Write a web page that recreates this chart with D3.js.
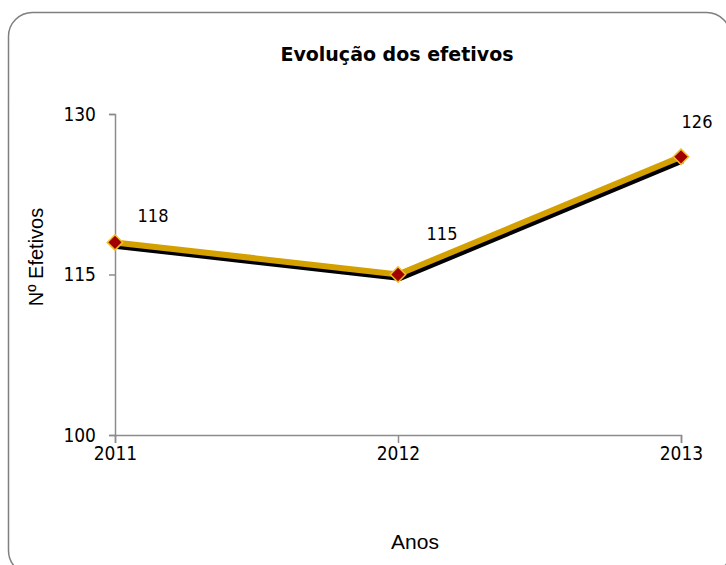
<!DOCTYPE html>
<html>
<head>
<meta charset="utf-8">
<script src="https://cdn.jsdelivr.net/npm/d3@7"></script>
<style>
  body { margin: 0; background: #fff; }
  text { font-family: "DejaVu Sans Condensed", "DejaVu Sans", sans-serif; }
</style>
</head>
<body>
<div id="chart"></div>
<script>
// data
var years = ["2011", "2012", "2013"];
var efetivos = [118, 115, 126];
var yTicks = [100, 115, 130];

var W = 726, H = 565;
var margin = { top: 114, right: 45, bottom: 130, left: 115 },
    width = W - margin.left - margin.right,
    height = H - margin.top - margin.bottom;

var svg = d3.select("#chart")
    .append("svg")
    .attr("width", W)
    .attr("height", H);

// outer rounded frame
svg.append("rect")
    .attr("x", 8.5).attr("y", 12.5)
    .attr("width", 722).attr("height", 562)
    .attr("rx", 24)
    .attr("fill", "#fff")
    .attr("stroke", "#7f7f7f")
    .attr("stroke-width", 1.5);

var g = svg.append("g")
    .attr("transform", "translate(" + margin.left + "," + margin.top + ")");

var x = d3.scalePoint()
    .domain(years)
    .range([0, width]);

var y = d3.scaleLinear()
    .domain([100, 130])
    .range([height, 0]);

// X axis
var xAxis = g.append("g")
    .attr("transform", "translate(0," + height + ")")
    .call(d3.axisBottom(x).tickSize(8).tickPadding(4));
xAxis.select(".domain").attr("stroke", "#8c8c8c").attr("stroke-width", 1.5);
xAxis.selectAll(".tick line").attr("stroke", "#8c8c8c").attr("stroke-width", 1.5);
xAxis.selectAll("text")
    .attr("font-size", 19)
    .attr("fill", "#000")
    .style("font-family", "'DejaVu Sans Condensed', sans-serif");

// Y axis
var yAxis = g.append("g")
    .call(d3.axisLeft(y).tickValues(yTicks).tickSize(6).tickPadding(13));
yAxis.select(".domain").attr("stroke", "#8c8c8c").attr("stroke-width", 1.5);
yAxis.selectAll(".tick line").attr("stroke", "#8c8c8c").attr("stroke-width", 1.5);
yAxis.selectAll("text")
    .attr("font-size", 19)
    .attr("fill", "#000")
    .style("font-family", "'DejaVu Sans Condensed', sans-serif");

var data = years.map(function (d, i) { return { year: d, value: efetivos[i] }; });

var line = d3.line()
    .x(function (d) { return x(d.year); })
    .y(function (d) { return y(d.value); });

// shadow
g.append("path")
    .datum(data)
    .attr("transform", "translate(2,3.5)")
    .attr("fill", "none")
    .attr("stroke", "#000")
    .attr("stroke-width", 6)
    .attr("d", line);

// the line
g.append("path")
    .datum(data)
    .attr("fill", "none")
    .attr("stroke", "#d4a000")
    .attr("stroke-width", 6)
    .attr("d", line);

// diamond markers
g.selectAll(".dot")
    .data(data)
    .enter()
    .append("path")
    .attr("class", "dot")
    .attr("transform", function (d) { return "translate(" + x(d.year) + "," + y(d.value) + ")"; })
    .attr("d", d3.symbol().type(d3.symbolDiamond2).size(150))
    .attr("fill", "#a00000")
    .attr("stroke", "#f0c020")
    .attr("stroke-width", 1.5);

// data labels
var labelOffset = [[38, -25], [44, -40], [16, -34]];
g.selectAll(".lbl")
    .data(data)
    .enter()
    .append("text")
    .attr("class", "lbl")
    .attr("x", function (d, i) { return x(d.year) + labelOffset[i][0]; })
    .attr("y", function (d, i) { return y(d.value) + labelOffset[i][1]; })
    .attr("text-anchor", "middle")
    .attr("dominant-baseline", "middle")
    .attr("font-size", 18)
    .text(function (d) { return d.value; });

// title
svg.append("text")
    .attr("x", 397)
    .attr("y", 61)
    .attr("text-anchor", "middle")
    .attr("font-size", 19)
    .attr("font-weight", "bold")
    .style("font-family", "'DejaVu Sans', sans-serif")
    .text("Evolução dos efetivos");

// axis titles
svg.append("text")
    .attr("transform", "translate(43,257) rotate(-90)")
    .attr("text-anchor", "middle")
    .attr("font-size", 20)
    .style("font-family", "'Liberation Sans', Arial, sans-serif")
    .text("Nº Efetivos");

svg.append("text")
    .attr("x", 415)
    .attr("y", 549)
    .attr("text-anchor", "middle")
    .attr("font-size", 21)
    .style("font-family", "'Liberation Sans', Arial, sans-serif")
    .text("Anos");
</script>
</body>
</html>
